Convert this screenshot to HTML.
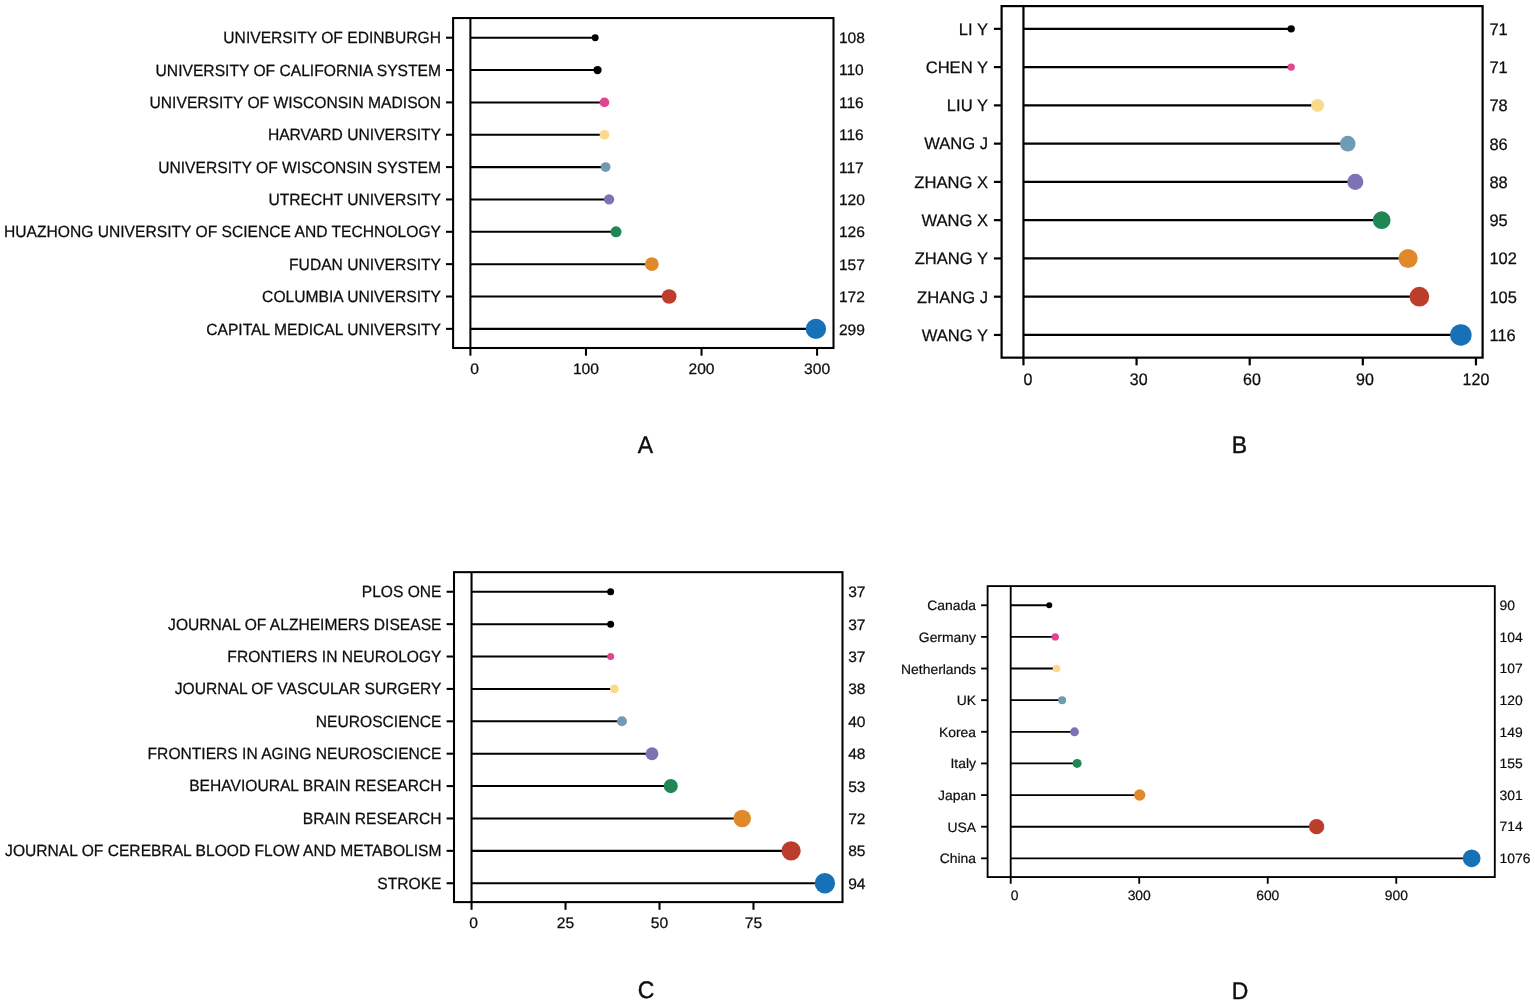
<!DOCTYPE html>
<html lang="en"><head><meta charset="utf-8"><title>Figure</title>
<style>
html,body{margin:0;padding:0;background:#fff}
body{width:1535px;height:1004px;overflow:hidden}
svg{display:block;text-rendering:geometricPrecision;font-family:"Liberation Sans",Arial,Helvetica,sans-serif}
</style></head><body>
<svg width="1535" height="1004" viewBox="0 0 1535 1004">
<rect width="1535" height="1004" fill="#fff"/>
<g fill="#0d0d0d" stroke="#000" stroke-width="2.05">
<rect x="453.1" y="18.05" width="380.40" height="329.95" fill="none"/>
<line x1="470.4" y1="18.05" x2="470.4" y2="348.0"/>
<line x1="446.00" y1="37.70" x2="453.1" y2="37.70"/>
<line x1="470.4" y1="37.70" x2="595.20" y2="37.70"/>
<line x1="446.00" y1="70.05" x2="453.1" y2="70.05"/>
<line x1="470.4" y1="70.05" x2="597.52" y2="70.05"/>
<line x1="446.00" y1="102.40" x2="453.1" y2="102.40"/>
<line x1="470.4" y1="102.40" x2="604.45" y2="102.40"/>
<line x1="446.00" y1="134.75" x2="453.1" y2="134.75"/>
<line x1="470.4" y1="134.75" x2="604.45" y2="134.75"/>
<line x1="446.00" y1="167.10" x2="453.1" y2="167.10"/>
<line x1="470.4" y1="167.10" x2="605.61" y2="167.10"/>
<line x1="446.00" y1="199.45" x2="453.1" y2="199.45"/>
<line x1="470.4" y1="199.45" x2="609.07" y2="199.45"/>
<line x1="446.00" y1="231.80" x2="453.1" y2="231.80"/>
<line x1="470.4" y1="231.80" x2="616.01" y2="231.80"/>
<line x1="446.00" y1="264.15" x2="453.1" y2="264.15"/>
<line x1="470.4" y1="264.15" x2="651.83" y2="264.15"/>
<line x1="446.00" y1="296.50" x2="453.1" y2="296.50"/>
<line x1="470.4" y1="296.50" x2="669.16" y2="296.50"/>
<line x1="446.00" y1="328.85" x2="453.1" y2="328.85"/>
<line x1="470.4" y1="328.85" x2="815.92" y2="328.85"/>
<line x1="470.40" y1="348.0" x2="470.40" y2="355.70"/>
<line x1="585.96" y1="348.0" x2="585.96" y2="355.70"/>
<line x1="701.52" y1="348.0" x2="701.52" y2="355.70"/>
<line x1="817.08" y1="348.0" x2="817.08" y2="355.70"/>
</g>
<g>
<circle cx="595.20" cy="37.70" r="3.45" fill="#000000"/>
<circle cx="597.52" cy="70.05" r="4.14" fill="#000000"/>
<circle cx="604.45" cy="102.40" r="4.83" fill="#e0468f"/>
<circle cx="604.45" cy="134.75" r="4.83" fill="#f9d98b"/>
<circle cx="605.61" cy="167.10" r="4.92" fill="#6f9bb3"/>
<circle cx="609.07" cy="199.45" r="5.14" fill="#7b73b6"/>
<circle cx="616.01" cy="231.80" r="5.52" fill="#1f8654"/>
<circle cx="651.83" cy="264.15" r="6.87" fill="#e0892b"/>
<circle cx="669.16" cy="296.50" r="7.36" fill="#bc3d2b"/>
<circle cx="815.92" cy="328.85" r="10.20" fill="#1771b6"/>
</g>
<g fill="#0d0d0d" stroke="#0d0d0d" stroke-width="0.25" stroke-linejoin="round">
<text transform="translate(441.00,43.35) scale(0.9645,1)" text-anchor="end" font-size="16.220">UNIVERSITY OF EDINBURGH</text>
<text transform="translate(838.90,42.90) scale(1.0250,1)" font-size="15.200">108</text>
<text transform="translate(441.00,75.70) scale(0.9645,1)" text-anchor="end" font-size="16.220">UNIVERSITY OF CALIFORNIA SYSTEM</text>
<text transform="translate(838.90,75.33) scale(1.0250,1)" font-size="15.200">110</text>
<text transform="translate(441.00,108.05) scale(0.9645,1)" text-anchor="end" font-size="16.220">UNIVERSITY OF WISCONSIN MADISON</text>
<text transform="translate(838.90,107.76) scale(1.0250,1)" font-size="15.200">116</text>
<text transform="translate(441.00,140.40) scale(0.9645,1)" text-anchor="end" font-size="16.220">HARVARD UNIVERSITY</text>
<text transform="translate(838.90,140.18) scale(1.0250,1)" font-size="15.200">116</text>
<text transform="translate(441.00,172.75) scale(0.9645,1)" text-anchor="end" font-size="16.220">UNIVERSITY OF WISCONSIN SYSTEM</text>
<text transform="translate(838.90,172.61) scale(1.0250,1)" font-size="15.200">117</text>
<text transform="translate(441.00,205.10) scale(0.9645,1)" text-anchor="end" font-size="16.220">UTRECHT UNIVERSITY</text>
<text transform="translate(838.90,205.04) scale(1.0250,1)" font-size="15.200">120</text>
<text transform="translate(441.00,237.45) scale(0.9645,1)" text-anchor="end" font-size="16.220">HUAZHONG UNIVERSITY OF SCIENCE AND TECHNOLOGY</text>
<text transform="translate(838.90,237.47) scale(1.0250,1)" font-size="15.200">126</text>
<text transform="translate(441.00,269.80) scale(0.9645,1)" text-anchor="end" font-size="16.220">FUDAN UNIVERSITY</text>
<text transform="translate(838.90,269.89) scale(1.0250,1)" font-size="15.200">157</text>
<text transform="translate(441.00,302.15) scale(0.9645,1)" text-anchor="end" font-size="16.220">COLUMBIA UNIVERSITY</text>
<text transform="translate(838.90,302.32) scale(1.0250,1)" font-size="15.200">172</text>
<text transform="translate(441.00,334.50) scale(0.9645,1)" text-anchor="end" font-size="16.220">CAPITAL MEDICAL UNIVERSITY</text>
<text transform="translate(838.90,334.75) scale(1.0250,1)" font-size="15.200">299</text>
<text transform="translate(474.70,374.40) scale(1.0330,1)" text-anchor="middle" font-size="15.100">0</text>
<text transform="translate(585.96,374.40) scale(1.0330,1)" text-anchor="middle" font-size="15.100">100</text>
<text transform="translate(701.52,374.40) scale(1.0330,1)" text-anchor="middle" font-size="15.100">200</text>
<text transform="translate(817.08,374.40) scale(1.0330,1)" text-anchor="middle" font-size="15.100">300</text>
</g>
<g fill="#0d0d0d" stroke="#0d0d0d" stroke-width="0.4" stroke-linejoin="round">
<text transform="translate(645.50,453.10) scale(0.9606,1)" text-anchor="middle" font-size="23.900">A</text>
</g>
<g fill="#0d0d0d" stroke="#000" stroke-width="2.2">
<rect x="1001.6" y="6.1" width="481.00" height="351.55" fill="none"/>
<line x1="1023.45" y1="6.1" x2="1023.45" y2="357.65"/>
<line x1="993.90" y1="28.85" x2="1001.6" y2="28.85"/>
<line x1="1023.45" y1="28.85" x2="1291.18" y2="28.85"/>
<line x1="993.90" y1="67.11" x2="1001.6" y2="67.11"/>
<line x1="1023.45" y1="67.11" x2="1291.18" y2="67.11"/>
<line x1="993.90" y1="105.38" x2="1001.6" y2="105.38"/>
<line x1="1023.45" y1="105.38" x2="1317.57" y2="105.38"/>
<line x1="993.90" y1="143.64" x2="1001.6" y2="143.64"/>
<line x1="1023.45" y1="143.64" x2="1347.74" y2="143.64"/>
<line x1="993.90" y1="181.90" x2="1001.6" y2="181.90"/>
<line x1="1023.45" y1="181.90" x2="1355.28" y2="181.90"/>
<line x1="993.90" y1="220.16" x2="1001.6" y2="220.16"/>
<line x1="1023.45" y1="220.16" x2="1381.68" y2="220.16"/>
<line x1="993.90" y1="258.43" x2="1001.6" y2="258.43"/>
<line x1="1023.45" y1="258.43" x2="1408.07" y2="258.43"/>
<line x1="993.90" y1="296.69" x2="1001.6" y2="296.69"/>
<line x1="1023.45" y1="296.69" x2="1419.38" y2="296.69"/>
<line x1="993.90" y1="334.95" x2="1001.6" y2="334.95"/>
<line x1="1023.45" y1="334.95" x2="1460.86" y2="334.95"/>
<line x1="1023.45" y1="357.65" x2="1023.45" y2="365.35"/>
<line x1="1136.57" y1="357.65" x2="1136.57" y2="365.35"/>
<line x1="1249.70" y1="357.65" x2="1249.70" y2="365.35"/>
<line x1="1362.82" y1="357.65" x2="1362.82" y2="365.35"/>
<line x1="1475.95" y1="357.65" x2="1475.95" y2="365.35"/>
</g>
<g>
<circle cx="1291.18" cy="28.85" r="3.70" fill="#000000"/>
<circle cx="1291.18" cy="67.11" r="3.70" fill="#e0468f"/>
<circle cx="1317.57" cy="105.38" r="6.48" fill="#f9d98b"/>
<circle cx="1347.74" cy="143.64" r="7.77" fill="#6f9bb3"/>
<circle cx="1355.28" cy="181.90" r="8.03" fill="#7b73b6"/>
<circle cx="1381.68" cy="220.16" r="8.85" fill="#1f8654"/>
<circle cx="1408.07" cy="258.43" r="9.55" fill="#e0892b"/>
<circle cx="1419.38" cy="296.69" r="9.83" fill="#bc3d2b"/>
<circle cx="1460.86" cy="334.95" r="10.75" fill="#1771b6"/>
</g>
<g fill="#0d0d0d" stroke="#0d0d0d" stroke-width="0.25" stroke-linejoin="round">
<text transform="translate(988.00,34.70) scale(0.9950,1)" text-anchor="end" font-size="16.660">LI Y</text>
<text transform="translate(1489.50,34.75) scale(0.9850,1)" font-size="16.660">71</text>
<text transform="translate(988.00,72.96) scale(0.9950,1)" text-anchor="end" font-size="16.660">CHEN Y</text>
<text transform="translate(1489.50,73.01) scale(0.9850,1)" font-size="16.660">71</text>
<text transform="translate(988.00,111.22) scale(0.9950,1)" text-anchor="end" font-size="16.660">LIU Y</text>
<text transform="translate(1489.50,111.28) scale(0.9850,1)" font-size="16.660">78</text>
<text transform="translate(988.00,149.49) scale(0.9950,1)" text-anchor="end" font-size="16.660">WANG J</text>
<text transform="translate(1489.50,149.54) scale(0.9850,1)" font-size="16.660">86</text>
<text transform="translate(988.00,187.75) scale(0.9950,1)" text-anchor="end" font-size="16.660">ZHANG X</text>
<text transform="translate(1489.50,187.80) scale(0.9850,1)" font-size="16.660">88</text>
<text transform="translate(988.00,226.01) scale(0.9950,1)" text-anchor="end" font-size="16.660">WANG X</text>
<text transform="translate(1489.50,226.06) scale(0.9850,1)" font-size="16.660">95</text>
<text transform="translate(988.00,264.28) scale(0.9950,1)" text-anchor="end" font-size="16.660">ZHANG Y</text>
<text transform="translate(1489.50,264.32) scale(0.9850,1)" font-size="16.660">102</text>
<text transform="translate(988.00,302.54) scale(0.9950,1)" text-anchor="end" font-size="16.660">ZHANG J</text>
<text transform="translate(1489.50,302.59) scale(0.9850,1)" font-size="16.660">105</text>
<text transform="translate(988.00,340.80) scale(0.9950,1)" text-anchor="end" font-size="16.660">WANG Y</text>
<text transform="translate(1489.50,340.85) scale(0.9850,1)" font-size="16.660">116</text>
<text transform="translate(1027.85,385.20) scale(0.9606,1)" text-anchor="middle" font-size="16.660">0</text>
<text transform="translate(1138.77,385.20) scale(0.9606,1)" text-anchor="middle" font-size="16.660">30</text>
<text transform="translate(1251.90,385.20) scale(0.9606,1)" text-anchor="middle" font-size="16.660">60</text>
<text transform="translate(1365.02,385.20) scale(0.9606,1)" text-anchor="middle" font-size="16.660">90</text>
<text transform="translate(1475.95,385.20) scale(0.9606,1)" text-anchor="middle" font-size="16.660">120</text>
</g>
<g fill="#0d0d0d" stroke="#0d0d0d" stroke-width="0.4" stroke-linejoin="round">
<text transform="translate(1239.30,453.00) scale(0.9606,1)" text-anchor="middle" font-size="23.900">B</text>
</g>
<g fill="#0d0d0d" stroke="#000" stroke-width="2.05">
<rect x="454.0" y="572.15" width="388.50" height="329.95" fill="none"/>
<line x1="471.55" y1="572.15" x2="471.55" y2="902.1"/>
<line x1="446.60" y1="591.76" x2="454.0" y2="591.76"/>
<line x1="471.55" y1="591.76" x2="610.63" y2="591.76"/>
<line x1="446.60" y1="624.15" x2="454.0" y2="624.15"/>
<line x1="471.55" y1="624.15" x2="610.63" y2="624.15"/>
<line x1="446.60" y1="656.53" x2="454.0" y2="656.53"/>
<line x1="471.55" y1="656.53" x2="610.63" y2="656.53"/>
<line x1="446.60" y1="688.92" x2="454.0" y2="688.92"/>
<line x1="471.55" y1="688.92" x2="614.39" y2="688.92"/>
<line x1="446.60" y1="721.31" x2="454.0" y2="721.31"/>
<line x1="471.55" y1="721.31" x2="621.91" y2="721.31"/>
<line x1="446.60" y1="753.69" x2="454.0" y2="753.69"/>
<line x1="471.55" y1="753.69" x2="651.98" y2="753.69"/>
<line x1="446.60" y1="786.08" x2="454.0" y2="786.08"/>
<line x1="471.55" y1="786.08" x2="670.78" y2="786.08"/>
<line x1="446.60" y1="818.47" x2="454.0" y2="818.47"/>
<line x1="471.55" y1="818.47" x2="742.20" y2="818.47"/>
<line x1="446.60" y1="850.85" x2="454.0" y2="850.85"/>
<line x1="471.55" y1="850.85" x2="791.07" y2="850.85"/>
<line x1="446.60" y1="883.24" x2="454.0" y2="883.24"/>
<line x1="471.55" y1="883.24" x2="824.90" y2="883.24"/>
<line x1="471.55" y1="902.1" x2="471.55" y2="909.80"/>
<line x1="565.52" y1="902.1" x2="565.52" y2="909.80"/>
<line x1="659.50" y1="902.1" x2="659.50" y2="909.80"/>
<line x1="753.48" y1="902.1" x2="753.48" y2="909.80"/>
</g>
<g>
<circle cx="610.63" cy="591.76" r="3.50" fill="#000000"/>
<circle cx="610.63" cy="624.15" r="3.50" fill="#000000"/>
<circle cx="610.63" cy="656.53" r="3.50" fill="#e0468f"/>
<circle cx="614.39" cy="688.92" r="4.39" fill="#f9d98b"/>
<circle cx="621.91" cy="721.31" r="5.04" fill="#6f9bb3"/>
<circle cx="651.98" cy="753.69" r="6.44" fill="#7b73b6"/>
<circle cx="670.78" cy="786.08" r="7.05" fill="#1f8654"/>
<circle cx="742.20" cy="818.47" r="8.75" fill="#e0892b"/>
<circle cx="791.07" cy="850.85" r="9.65" fill="#bc3d2b"/>
<circle cx="824.90" cy="883.24" r="10.20" fill="#1771b6"/>
</g>
<g fill="#0d0d0d" stroke="#0d0d0d" stroke-width="0.25" stroke-linejoin="round">
<text transform="translate(441.50,597.16) scale(0.9630,1)" text-anchor="end" font-size="16.220">PLOS ONE</text>
<text transform="translate(848.20,597.26) scale(1.0250,1)" font-size="15.200">37</text>
<text transform="translate(441.50,629.55) scale(0.9630,1)" text-anchor="end" font-size="16.220">JOURNAL OF ALZHEIMERS DISEASE</text>
<text transform="translate(848.20,629.65) scale(1.0250,1)" font-size="15.200">37</text>
<text transform="translate(441.50,661.93) scale(0.9630,1)" text-anchor="end" font-size="16.220">FRONTIERS IN NEUROLOGY</text>
<text transform="translate(848.20,662.03) scale(1.0250,1)" font-size="15.200">37</text>
<text transform="translate(441.50,694.32) scale(0.9630,1)" text-anchor="end" font-size="16.220">JOURNAL OF VASCULAR SURGERY</text>
<text transform="translate(848.20,694.42) scale(1.0250,1)" font-size="15.200">38</text>
<text transform="translate(441.50,726.71) scale(0.9630,1)" text-anchor="end" font-size="16.220">NEUROSCIENCE</text>
<text transform="translate(848.20,726.81) scale(1.0250,1)" font-size="15.200">40</text>
<text transform="translate(441.50,759.09) scale(0.9630,1)" text-anchor="end" font-size="16.220">FRONTIERS IN AGING NEUROSCIENCE</text>
<text transform="translate(848.20,759.19) scale(1.0250,1)" font-size="15.200">48</text>
<text transform="translate(441.50,791.48) scale(0.9630,1)" text-anchor="end" font-size="16.220">BEHAVIOURAL BRAIN RESEARCH</text>
<text transform="translate(848.20,791.58) scale(1.0250,1)" font-size="15.200">53</text>
<text transform="translate(441.50,823.87) scale(0.9630,1)" text-anchor="end" font-size="16.220">BRAIN RESEARCH</text>
<text transform="translate(848.20,823.97) scale(1.0250,1)" font-size="15.200">72</text>
<text transform="translate(441.50,856.25) scale(0.9630,1)" text-anchor="end" font-size="16.220">JOURNAL OF CEREBRAL BLOOD FLOW AND METABOLISM</text>
<text transform="translate(848.20,856.35) scale(1.0250,1)" font-size="15.200">85</text>
<text transform="translate(441.50,888.64) scale(0.9630,1)" text-anchor="end" font-size="16.220">STROKE</text>
<text transform="translate(848.20,888.74) scale(1.0250,1)" font-size="15.200">94</text>
<text transform="translate(473.70,928.20) scale(1.0330,1)" text-anchor="middle" font-size="15.100">0</text>
<text transform="translate(565.52,928.20) scale(1.0330,1)" text-anchor="middle" font-size="15.100">25</text>
<text transform="translate(659.50,928.20) scale(1.0330,1)" text-anchor="middle" font-size="15.100">50</text>
<text transform="translate(753.48,928.20) scale(1.0330,1)" text-anchor="middle" font-size="15.100">75</text>
</g>
<g fill="#0d0d0d" stroke="#0d0d0d" stroke-width="0.4" stroke-linejoin="round">
<text transform="translate(646.10,998.30) scale(0.9606,1)" text-anchor="middle" font-size="23.900">C</text>
</g>
<g fill="#0d0d0d" stroke="#000" stroke-width="1.85">
<rect x="987.6" y="586.1" width="507.20" height="290.95" fill="none"/>
<line x1="1010.7" y1="586.1" x2="1010.7" y2="877.05"/>
<line x1="981.10" y1="605.26" x2="987.6" y2="605.26"/>
<line x1="1010.7" y1="605.26" x2="1049.26" y2="605.26"/>
<line x1="981.10" y1="636.89" x2="987.6" y2="636.89"/>
<line x1="1010.7" y1="636.89" x2="1055.25" y2="636.89"/>
<line x1="981.10" y1="668.53" x2="987.6" y2="668.53"/>
<line x1="1010.7" y1="668.53" x2="1056.54" y2="668.53"/>
<line x1="981.10" y1="700.16" x2="987.6" y2="700.16"/>
<line x1="1010.7" y1="700.16" x2="1062.11" y2="700.16"/>
<line x1="981.10" y1="731.80" x2="987.6" y2="731.80"/>
<line x1="1010.7" y1="731.80" x2="1074.53" y2="731.80"/>
<line x1="981.10" y1="763.43" x2="987.6" y2="763.43"/>
<line x1="1010.7" y1="763.43" x2="1077.10" y2="763.43"/>
<line x1="981.10" y1="795.06" x2="987.6" y2="795.06"/>
<line x1="1010.7" y1="795.06" x2="1139.65" y2="795.06"/>
<line x1="981.10" y1="826.70" x2="987.6" y2="826.70"/>
<line x1="1010.7" y1="826.70" x2="1316.58" y2="826.70"/>
<line x1="981.10" y1="858.33" x2="987.6" y2="858.33"/>
<line x1="1010.7" y1="858.33" x2="1471.66" y2="858.33"/>
<line x1="1010.70" y1="877.05" x2="1010.70" y2="883.75"/>
<line x1="1139.22" y1="877.05" x2="1139.22" y2="883.75"/>
<line x1="1267.74" y1="877.05" x2="1267.74" y2="883.75"/>
<line x1="1396.26" y1="877.05" x2="1396.26" y2="883.75"/>
</g>
<g>
<circle cx="1049.26" cy="605.26" r="3.00" fill="#000000"/>
<circle cx="1055.25" cy="636.89" r="3.70" fill="#e0468f"/>
<circle cx="1056.54" cy="668.53" r="3.77" fill="#f9d98b"/>
<circle cx="1062.11" cy="700.16" r="4.02" fill="#6f9bb3"/>
<circle cx="1074.53" cy="731.80" r="4.43" fill="#7b73b6"/>
<circle cx="1077.10" cy="763.43" r="4.50" fill="#1f8654"/>
<circle cx="1139.65" cy="795.06" r="5.71" fill="#e0892b"/>
<circle cx="1316.58" cy="826.70" r="7.65" fill="#bc3d2b"/>
<circle cx="1471.66" cy="858.33" r="8.85" fill="#1771b6"/>
</g>
<g fill="#0d0d0d" stroke="#0d0d0d" stroke-width="0.2" stroke-linejoin="round">
<text transform="translate(976.00,610.31) scale(1.0260,1)" text-anchor="end" font-size="13.550">Canada</text>
<text transform="translate(1499.50,609.96) scale(1.0260,1)" font-size="13.550">90</text>
<text transform="translate(976.00,641.94) scale(1.0260,1)" text-anchor="end" font-size="13.550">Germany</text>
<text transform="translate(1499.50,641.59) scale(1.0260,1)" font-size="13.550">104</text>
<text transform="translate(976.00,673.58) scale(1.0260,1)" text-anchor="end" font-size="13.550">Netherlands</text>
<text transform="translate(1499.50,673.23) scale(1.0260,1)" font-size="13.550">107</text>
<text transform="translate(976.00,705.21) scale(1.0260,1)" text-anchor="end" font-size="13.550">UK</text>
<text transform="translate(1499.50,704.86) scale(1.0260,1)" font-size="13.550">120</text>
<text transform="translate(976.00,736.85) scale(1.0260,1)" text-anchor="end" font-size="13.550">Korea</text>
<text transform="translate(1499.50,736.50) scale(1.0260,1)" font-size="13.550">149</text>
<text transform="translate(976.00,768.48) scale(1.0260,1)" text-anchor="end" font-size="13.550">Italy</text>
<text transform="translate(1499.50,768.13) scale(1.0260,1)" font-size="13.550">155</text>
<text transform="translate(976.00,800.11) scale(1.0260,1)" text-anchor="end" font-size="13.550">Japan</text>
<text transform="translate(1499.50,799.76) scale(1.0260,1)" font-size="13.550">301</text>
<text transform="translate(976.00,831.75) scale(1.0260,1)" text-anchor="end" font-size="13.550">USA</text>
<text transform="translate(1499.50,831.40) scale(1.0260,1)" font-size="13.550">714</text>
<text transform="translate(976.00,863.38) scale(1.0260,1)" text-anchor="end" font-size="13.550">China</text>
<text transform="translate(1499.50,863.03) scale(1.0260,1)" font-size="13.550">1076</text>
<text transform="translate(1014.50,900.10) scale(1.0260,1)" text-anchor="middle" font-size="13.550">0</text>
<text transform="translate(1139.22,900.10) scale(1.0260,1)" text-anchor="middle" font-size="13.550">300</text>
<text transform="translate(1267.74,900.10) scale(1.0260,1)" text-anchor="middle" font-size="13.550">600</text>
<text transform="translate(1396.26,900.10) scale(1.0260,1)" text-anchor="middle" font-size="13.550">900</text>
</g>
<g fill="#0d0d0d" stroke="#0d0d0d" stroke-width="0.4" stroke-linejoin="round">
<text transform="translate(1240.00,998.50) scale(0.9606,1)" text-anchor="middle" font-size="23.900">D</text>
</g>
</svg>
</body></html>
